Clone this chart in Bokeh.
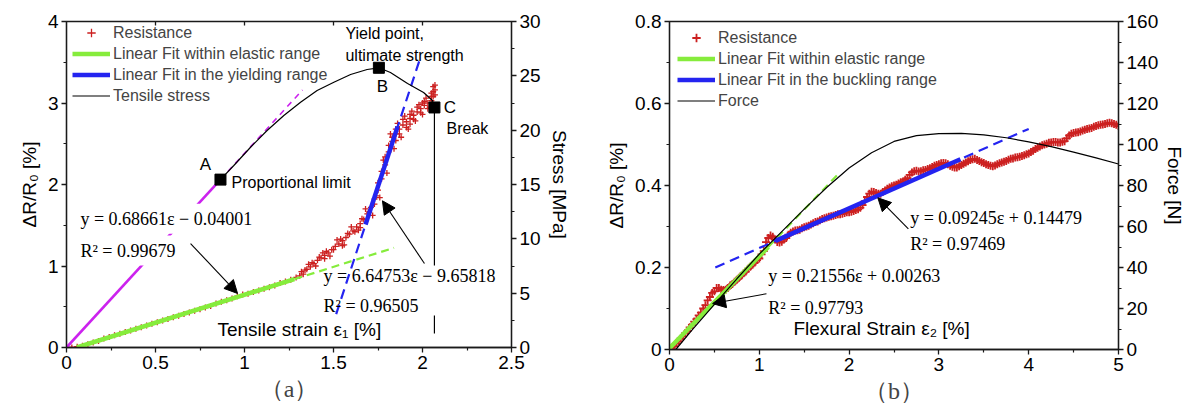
from bokeh.plotting import figure
from bokeh.models import (Range1d, LinearAxis, FixedTicker, Label, Arrow, NormalHead,
                          Legend, LegendItem, Title)
from bokeh.layouts import row
from bokeh.embed import file_html
from bokeh.resources import INLINE

NaN = float("nan")

# ---------------- panel (a) data ----------------
a_res_x = [0.00, 0.03, 0.06, 0.09, 0.12, 0.15, 0.18, 0.21, 0.24, 0.27, 0.30, 0.33, 0.36, 0.39,
           0.42, 0.45, 0.48, 0.51, 0.54, 0.57, 0.60, 0.63, 0.66, 0.69, 0.72, 0.75, 0.78, 0.81,
           0.84, 0.87, 0.90, 0.93, 0.96, 0.99, 1.02, 1.05, 1.08, 1.11, 1.14, 1.17, 1.20, 1.23,
           1.26, 1.29, 1.31, 1.33, 1.35, 1.37, 1.39, 1.41, 1.43, 1.45, 1.47, 1.49, 1.51, 1.53,
           1.55, 1.57, 1.59, 1.61, 1.63, 1.65, 1.67, 1.69, 1.71, 1.73, 1.75, 1.77, 1.79, 1.81,
           1.83, 1.85, 1.87, 1.89, 1.91, 1.93, 1.95, 1.97, 1.99, 2.01, 2.03, 2.05, 2.06, 2.07,
           1.36, 1.40, 1.44, 1.48, 1.52, 1.56, 1.60, 1.64, 1.68, 1.72, 1.76, 1.78, 1.80, 1.82,
           1.84, 1.86, 1.88, 1.90, 1.92, 1.94, 1.96, 1.98, 2.00, 2.02, 2.04, 2.06, 2.07, 2.05,
           1.32, 1.34, 1.38, 1.42, 1.46, 1.50, 1.54, 1.58, 1.62, 1.66, 1.70, 1.74, 1.75, 1.77,
           1.79, 1.81, 1.83, 1.85, 1.87, 1.89, 1.91, 1.93, 1.95, 1.97, 1.99, 2.01, 2.03, 2.05,
           2.06, 2.07, 1.45, 1.55, 1.65, 1.73, 1.85, 1.93, 2.00]
a_res_y = [0.00, 0.00, 0.01, 0.02, 0.04, 0.06, 0.08, 0.11, 0.13, 0.15, 0.17, 0.19, 0.21, 0.23,
           0.25, 0.27, 0.29, 0.31, 0.33, 0.35, 0.37, 0.39, 0.41, 0.43, 0.45, 0.47, 0.49, 0.51,
           0.54, 0.56, 0.58, 0.60, 0.63, 0.65, 0.66, 0.68, 0.70, 0.72, 0.74, 0.76, 0.79, 0.81,
           0.83, 0.86, 0.88, 0.90, 0.96, 0.99, 1.03, 1.07, 1.10, 1.13, 1.16, 1.20, 1.24, 1.27,
           1.31, 1.35, 1.39, 1.43, 1.48, 1.52, 1.57, 1.64, 1.72, 1.82, 1.93, 2.07, 2.24, 2.40,
           2.53, 2.62, 2.68, 2.73, 2.77, 2.81, 2.85, 2.89, 2.93, 2.97, 3.00, 3.03, 3.08, 3.16,
           1.02, 1.00, 1.16, 1.12, 1.32, 1.26, 1.48, 1.44, 1.70, 1.62, 1.84, 2.30, 2.14, 2.62,
           2.44, 2.75, 2.58, 2.84, 2.68, 2.90, 2.78, 2.98, 2.86, 3.06, 2.95, 3.20, 3.10, 3.12,
           0.93, 0.95, 1.04, 1.11, 1.18, 1.20, 1.33, 1.40, 1.42, 1.58, 1.66, 1.86, 2.02, 2.16,
           2.34, 2.48, 2.58, 2.68, 2.62, 2.80, 2.70, 2.86, 2.80, 2.95, 2.88, 3.02, 2.93, 3.08,
           3.14, 3.22, 1.09, 1.25, 1.47, 1.76, 2.54, 2.74, 3.00]

# tensile stress curve (right axis, MPa): A -> B -> C, then drop at break
a_stress_x = [0.865, 0.940, 1.034, 1.127, 1.221, 1.315, 1.408, 1.502, 1.596, 1.689, 1.755,
              1.820, 1.916, 2.006, 2.056, 2.067, 2.067, NaN, 2.067, 2.067]
a_stress_y = [15.45, 16.75, 18.43, 19.97, 21.35, 22.57, 23.65, 24.41, 25.12, 25.58, 25.74,
              25.31, 24.29, 23.47, 22.73, 22.09, 7.55, NaN, 2.94, 1.29]
a_elastic_x = [0.0, 0.865]
a_elastic_y = [0.0, 15.45]
a_elastic_ext_x = [0.865, 1.326]
a_elastic_ext_y = [15.45, 23.7]
a_points_x = [0.865, 1.755, 2.067]
a_points_y = [15.45, 25.74, 22.09]
a_points_lbl = ["A", "B", "C"]

a_fit1_x = [0.058, 1.28]
a_fit1_y = [0.0, 0.839]
a_fit1_ext_x = [1.28, 1.84]
a_fit1_ext_y = [0.839, 1.223]
a_fit2_x = [1.68, 1.86]
a_fit2_y = [1.51, 2.71]
a_fit2_ext_x = [1.515, 1.99]
a_fit2_ext_y = [0.41, 3.57]

# ---------------- panel (b) data ----------------
b_res_x = [0.00, 0.05, 0.10, 0.15, 0.20, 0.25, 0.30, 0.35, 0.40, 0.45, 0.50, 0.55, 0.60, 0.65,
           0.70, 0.75, 0.80, 0.85, 0.90, 0.95, 1.00, 1.05, 1.10, 1.15, 1.20, 1.25, 1.30, 1.35,
           1.40, 1.45, 1.50, 1.55, 1.60, 1.65, 1.70, 1.75, 1.80, 1.85, 1.90, 1.95, 2.00, 2.05,
           2.10, 2.15, 2.20, 2.25, 2.30, 2.35, 2.40, 2.45, 2.50, 2.55, 2.60, 2.65, 2.70, 2.75,
           2.80, 2.85, 2.90, 2.95, 3.00, 3.05, 3.10, 3.15, 3.20, 3.25, 3.30, 3.35, 3.40, 3.45,
           3.50, 3.55, 3.60, 3.65, 3.70, 3.75, 3.80, 3.85, 3.90, 3.95, 4.00, 4.05, 4.10, 4.15,
           4.20, 4.25, 4.30, 4.35, 4.40, 4.45, 4.50, 4.55, 4.60, 4.65, 4.70, 4.75, 4.80, 4.85,
           4.90, 4.95, 5.00,
           0.025, 0.075, 0.125, 0.175, 0.225, 0.275, 0.325, 0.375, 0.425, 0.475, 0.525, 0.575,
           0.625, 0.675, 0.725, 0.775, 0.825, 0.875, 0.925, 0.975, 1.025, 1.075, 1.125, 1.175,
           1.225, 1.275, 1.325, 1.375, 1.425, 1.475, 1.525, 1.575, 1.625, 1.675, 1.725, 1.775,
           1.825, 1.875, 1.925, 1.975, 2.025, 2.075, 2.125, 2.175, 2.225, 2.275, 2.325, 2.375,
           2.425, 2.475, 2.525, 2.575, 2.625, 2.675, 2.725, 2.775, 2.825, 2.875, 2.925, 2.975,
           3.025, 3.075, 3.125, 3.175, 3.225, 3.275, 3.325, 3.375, 3.425, 3.475, 3.525, 3.575,
           3.625, 3.675, 3.725, 3.775, 3.825, 3.875, 3.925, 3.975, 4.025, 4.075, 4.125, 4.175,
           4.225, 4.275, 4.325, 4.375, 4.425, 4.475, 4.525, 4.575, 4.625, 4.675, 4.725, 4.775,
           4.825, 4.875, 4.925, 4.975]
b_res_y = [0.000, 0.008, 0.020, 0.032, 0.045, 0.060, 0.074, 0.090, 0.108, 0.128, 0.142, 0.150,
           0.145, 0.150, 0.160, 0.170, 0.180, 0.190, 0.202, 0.212, 0.222, 0.240, 0.272, 0.275,
           0.262, 0.263, 0.272, 0.285, 0.290, 0.292, 0.298, 0.302, 0.308, 0.312, 0.318, 0.322,
           0.325, 0.328, 0.330, 0.333, 0.335, 0.338, 0.342, 0.352, 0.372, 0.385, 0.382, 0.380,
           0.388, 0.395, 0.400, 0.405, 0.410, 0.418, 0.432, 0.436, 0.435, 0.438, 0.442, 0.448,
           0.452, 0.455, 0.452, 0.446, 0.444, 0.450, 0.456, 0.462, 0.465, 0.460, 0.455, 0.450,
           0.447, 0.452, 0.456, 0.460, 0.465, 0.468, 0.470, 0.474, 0.478, 0.485, 0.492, 0.498,
           0.502, 0.505, 0.506, 0.505, 0.508, 0.522, 0.528, 0.530, 0.534, 0.538, 0.540, 0.545,
           0.548, 0.550, 0.553, 0.550, 0.545,
           0.004, 0.015, 0.027, 0.040, 0.054, 0.068, 0.083, 0.100, 0.120, 0.138, 0.150, 0.146,
           0.146, 0.156, 0.165, 0.175, 0.186, 0.197, 0.207, 0.218, 0.232, 0.262, 0.278, 0.268,
           0.261, 0.268, 0.280, 0.288, 0.291, 0.296, 0.300, 0.305, 0.311, 0.315, 0.320, 0.324,
           0.326, 0.330, 0.331, 0.335, 0.336, 0.340, 0.346, 0.362, 0.380, 0.384, 0.380, 0.384,
           0.392, 0.398, 0.402, 0.408, 0.414, 0.426, 0.435, 0.434, 0.437, 0.440, 0.445, 0.450,
           0.454, 0.454, 0.448, 0.444, 0.447, 0.453, 0.459, 0.464, 0.462, 0.457, 0.452, 0.448,
           0.449, 0.454, 0.458, 0.463, 0.466, 0.469, 0.472, 0.476, 0.482, 0.489, 0.495, 0.500,
           0.504, 0.506, 0.505, 0.507, 0.515, 0.526, 0.529, 0.532, 0.536, 0.539, 0.543, 0.547,
           0.549, 0.552, 0.552, 0.548]

b_force_x = [0.07, 0.25, 0.50, 0.75, 1.00, 1.25, 1.50, 1.75, 2.00, 2.25, 2.50, 2.75, 3.00,
             3.25, 3.50, 3.75, 4.00, 4.25, 4.50, 4.75, 5.00]
b_force_y = [0.0, 9.5, 22.0, 34.5, 46.5, 57.5, 68.5, 79.0, 88.5, 96.0, 101.5, 104.3, 105.3,
             105.4, 104.7, 103.3, 101.3, 99.0, 96.3, 93.5, 90.5]

b_fit1_x = [0.0, 1.10]
b_fit1_y = [0.003, 0.250]
b_fit1_ext_x = [1.10, 1.88]
b_fit1_ext_y = [0.250, 0.428]
b_fit2_x = [1.18, 3.24]
b_fit2_y = [0.265, 0.464]
b_fit2_ext_x = [0.51, 4.00]
b_fit2_ext_y = [0.200, 0.538]

RED = "#cc2020"
GREEN = "#86ec3c"
BLUE = "#2424f0"
MAGENTA = "#cc22ee"
AX = "#1a1a1a"
SANS = "Liberation Sans"
SERIF = "Liberation Serif"


def style_axis(ax, label_size="19px"):
    ax.axis_line_color = AX
    ax.axis_line_width = 1.3
    ax.major_tick_line_color = AX
    ax.major_tick_line_width = 1.3
    ax.major_tick_out = 5
    ax.major_tick_in = 0
    ax.minor_tick_line_color = AX
    ax.minor_tick_line_width = 1.2
    ax.minor_tick_out = 3
    ax.minor_tick_in = 0
    ax.major_label_text_font = SANS
    ax.major_label_text_font_size = label_size
    ax.major_label_text_color = "black"
    ax.major_label_standoff = 3
    ax.axis_label_text_font = SANS
    ax.axis_label_text_font_size = "19px"
    ax.axis_label_text_font_style = "normal"
    ax.axis_label_text_color = "black"
    ax.axis_label_standoff = 5


def add_label(p, x, y, text, font=SANS, size="16px", align="left", bg=None, rng="default"):
    lab = Label(x=x, y=y, text=text, text_font=font, text_font_size=size,
                text_align=align, text_baseline="middle", text_color="black",
                y_range_name=rng)
    if bg is not None:
        lab.background_fill_color = bg
        lab.padding = 5
    p.add_layout(lab)


def add_arrow(p, xs, ys, xe, ye):
    p.add_layout(Arrow(end=NormalHead(size=13, fill_color="black", line_color="black", line_width=1),
                       x_start=xs, y_start=ys, x_end=xe, y_end=ye,
                       line_color="black", line_width=1.1))


def base_fig(xr, yr, fw, fh, bl, br, bt):
    p = figure(frame_width=fw, frame_height=fh, x_range=Range1d(*xr), y_range=Range1d(*yr),
               output_backend="svg", toolbar_location=None,
               min_border_left=bl, min_border_right=br, min_border_top=bt, min_border_bottom=0)
    p.xgrid.visible = False
    p.ygrid.visible = False
    p.outline_line_color = AX
    p.outline_line_width = 1.3
    p.background_fill_color = "white"
    p.border_fill_color = "white"
    return p


def legend(p, items, loc):
    lg = Legend(items=items, location=loc, label_text_font=SANS, label_text_font_size="16px",
                glyph_width=38, glyph_height=21, label_height=21, spacing=0, padding=0, margin=0,
                label_standoff=3, border_line_alpha=0, background_fill_alpha=0)
    p.add_layout(lg)


def add_title(p, text):
    p.add_layout(Title(text=text, align="center", text_font=SERIF, text_font_size="24px",
                       text_font_style="normal", standoff=5), "below")


# ================= panel (a) =================
pa = base_fig((0, 2.5), (0, 4), 445, 326, 66, 64, 21)
pa.extra_y_ranges = {"stress": Range1d(0, 30)}
pa.xaxis.ticker = FixedTicker(ticks=[0, 0.5, 1.0, 1.5, 2.0, 2.5],
                              minor_ticks=[0.25, 0.75, 1.25, 1.75, 2.25])
pa.yaxis.ticker = FixedTicker(ticks=[0, 1, 2, 3, 4], minor_ticks=[0.5, 1.5, 2.5, 3.5])
pa.yaxis.axis_label = "ΔR/R₀ [%]"
style_axis(pa.xaxis[0])
style_axis(pa.yaxis[0])
ra = LinearAxis(y_range_name="stress", axis_label="Stress [MPa]",
                ticker=FixedTicker(ticks=[0, 5, 10, 15, 20, 25, 30],
                                   minor_ticks=[2.5, 7.5, 12.5, 17.5, 22.5, 27.5]))
style_axis(ra)
pa.add_layout(ra, "right")
# mirrored inward ticks on the top edge (no labels drawn)
ta = LinearAxis(ticker=FixedTicker(ticks=[0.5, 1.0, 1.5, 2.0], minor_ticks=[]))
ta.axis_line_color = None
ta.major_tick_in = 4
ta.major_tick_out = 0
ta.major_tick_line_color = AX
ta.major_tick_line_width = 1.3
ta.minor_tick_line_color = None
ta.major_label_text_color = None
ta.major_label_text_font_size = "1px"
ta.major_label_standoff = 0
pa.add_layout(ta, "above")

r_res_a = pa.scatter(a_res_x, a_res_y, marker="cross", size=6, line_color=RED, line_width=1.3)
pa.line(a_fit1_ext_x, a_fit1_ext_y, line_color=GREEN, line_width=2.2, line_dash="8 5")
r_g_a = pa.line(a_fit1_x, a_fit1_y, line_color=GREEN, line_width=4.5)
pa.line(a_fit2_ext_x, a_fit2_ext_y, line_color=BLUE, line_width=2.2, line_dash="10 6")
r_b_a = pa.line(a_fit2_x, a_fit2_y, line_color=BLUE, line_width=4.5)
pa.line(a_elastic_x, a_elastic_y, line_color=MAGENTA, line_width=2.6, y_range_name="stress")
pa.line(a_elastic_ext_x, a_elastic_ext_y, line_color=MAGENTA, line_width=1.6,
        line_dash="6 5", y_range_name="stress")
r_k_a = pa.line(a_stress_x, a_stress_y, line_color="black", line_width=1.2, y_range_name="stress")
pa.scatter(a_points_x, a_points_y, marker="square", size=11, fill_color="black",
           line_color="black", y_range_name="stress")

legend(pa, [LegendItem(label="Resistance", renderers=[r_res_a]),
            LegendItem(label="Linear Fit within elastic range", renderers=[r_g_a]),
            LegendItem(label="Linear Fit in the yielding range", renderers=[r_b_a]),
            LegendItem(label="Tensile stress", renderers=[r_k_a])], (6, 241))

add_label(pa, 0.781, 2.245, a_points_lbl[0], size="17px", align="center")
add_label(pa, 0.927, 2.02, "Proportional limit")
add_label(pa, 1.775, 3.20, a_points_lbl[1], size="17px", align="center")
add_label(pa, 1.567, 3.85, "Yield point,")
add_label(pa, 1.567, 3.58, "ultimate strength")
add_label(pa, 2.12, 2.945, a_points_lbl[2], size="17px")
add_label(pa, 2.135, 2.69, "Break")
add_label(pa, 0.848, 0.22, "Tensile strain ε₁ [%]", size="19px")
add_label(pa, 0.05, 1.58, "y = 0.68661ε − 0.04001", font=SERIF, size="18px", bg="white")
add_label(pa, 0.05, 1.19, "R² = 0.99679", font=SERIF, size="18px", bg="white")
add_label(pa, 1.444, 0.88, "y = 6.64753ε − 9.65818", font=SERIF, size="18px")
add_label(pa, 1.444, 0.515, "R² = 0.96505", font=SERIF, size="18px")
add_arrow(pa, 0.697, 1.276, 0.961, 0.663)
add_arrow(pa, 2.011, 1.03, 1.775, 1.80)
add_title(pa, "（a）")

# ================= panel (b) =================
pb = base_fig((0, 5), (0, 0.8), 449, 328, 94, 0, 20)
pb.extra_y_ranges = {"force": Range1d(0, 160)}
pb.xaxis.ticker = FixedTicker(ticks=[0, 1, 2, 3, 4, 5], minor_ticks=[0.5, 1.5, 2.5, 3.5, 4.5])
pb.yaxis.ticker = FixedTicker(ticks=[0.0, 0.2, 0.4, 0.6, 0.8], minor_ticks=[0.1, 0.3, 0.5, 0.7])
pb.yaxis.axis_label = "ΔR/R₀ [%]"
style_axis(pb.xaxis[0])
style_axis(pb.yaxis[0])
rb = LinearAxis(y_range_name="force", axis_label="Force [N]",
                ticker=FixedTicker(ticks=[0, 20, 40, 60, 80, 100, 120, 140, 160],
                                   minor_ticks=[10, 30, 50, 70, 90, 110, 130, 150]))
style_axis(rb)
rb.axis_label_standoff = 3
pb.add_layout(rb, "right")

r_res_b = pb.scatter(b_res_x, b_res_y, marker="cross", size=8, line_color=RED, line_width=1.8)
pb.line(b_fit1_ext_x, b_fit1_ext_y, line_color=GREEN, line_width=2.2, line_dash="8 5")
r_g_b = pb.line(b_fit1_x, b_fit1_y, line_color=GREEN, line_width=4.5)
pb.line(b_fit2_ext_x, b_fit2_ext_y, line_color=BLUE, line_width=2.2, line_dash="10 6")
r_b_b = pb.line(b_fit2_x, b_fit2_y, line_color=BLUE, line_width=4.5)
r_k_b = pb.line(b_force_x, b_force_y, line_color="black", line_width=1.2, y_range_name="force")

legend(pb, [LegendItem(label="Resistance", renderers=[r_res_b]),
            LegendItem(label="Linear Fit within elastic range", renderers=[r_g_b]),
            LegendItem(label="Linear Fit in the buckling range", renderers=[r_b_b]),
            LegendItem(label="Force", renderers=[r_k_b])], (8, 238))

add_label(pb, 1.10, 0.18, "y = 0.21556ε + 0.00263", font=SERIF, size="18px")
add_label(pb, 1.10, 0.102, "R² = 0.97793", font=SERIF, size="18px")
add_label(pb, 2.68, 0.321, "y = 0.09245ε + 0.14479", font=SERIF, size="18px")
add_label(pb, 2.68, 0.258, "R² = 0.97469", font=SERIF, size="18px")
add_label(pb, 1.38, 0.051, "Flexural Strain ε₂ [%]", size="19px")
add_arrow(pb, 1.08, 0.136, 0.48, 0.112)
add_arrow(pb, 2.66, 0.294, 2.32, 0.37)
add_title(pb, "（b）")

layout = row(pa, pb)
open("out.html", "w").write(file_html(layout, INLINE))
